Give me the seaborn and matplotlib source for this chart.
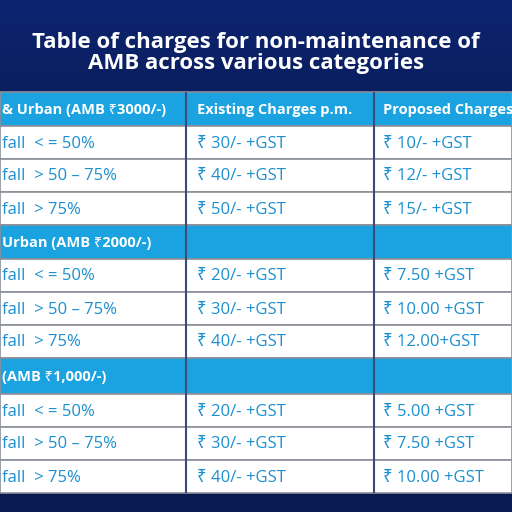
import matplotlib
matplotlib.use("Agg")
import matplotlib.pyplot as plt
import seaborn as sns
import numpy as np

sns.set_theme(style="white")
plt.rcParams['font.family'] = ['Open Sans', 'Noto Sans', 'DejaVu Sans']

title = "Table of charges for non-maintenance of\nAMB across various categories"
headers = ["& Urban (AMB ₹3000/-)", "Existing Charges p.m.", "Proposed Charges p.m."]
sections = ["Urban (AMB ₹2000/-)", "(AMB ₹1,000/-)"]
row_labels = ["fall  < = 50%", "fall  > 50 – 75%", "fall  > 75%"]
existing = [["₹ 30/- +GST", "₹ 40/- +GST", "₹ 50/- +GST"],
            ["₹ 20/- +GST", "₹ 30/- +GST", "₹ 40/- +GST"],
            ["₹ 20/- +GST", "₹ 30/- +GST", "₹ 40/- +GST"]]
proposed = [["₹ 10/- +GST", "₹ 12/- +GST", "₹ 15/- +GST"],
            ["₹ 7.50 +GST", "₹ 10.00 +GST", "₹ 12.00+GST"],
            ["₹ 5.00 +GST", "₹ 7.50 +GST", "₹ 10.00 +GST"]]

BLUE = "#1aa3e0"
TXT = "#1b8fd0"
fig = plt.figure(figsize=(5.12, 5.12), dpi=100)
fig.patch.set_facecolor("#0a1a52")
bg = fig.add_axes([0, 0, 1, 1])
grad = np.linspace(0, 1, 256).reshape(-1, 1)
bg.imshow(grad, aspect="auto", cmap=sns.blend_palette(["#0c2470", "#081540", "#0a1a52"], as_cmap=True), extent=[0, 512, 512, 0])
bg.set_xlim(0, 512); bg.set_ylim(512, 0); bg.axis("off")

ax = fig.add_axes([0, 0, 1, 1], facecolor="none")
ax.set_xlim(0, 512); ax.set_ylim(512, 0); ax.axis("off")

fig.text(0.5, 1 - 53 / 512, title, ha="center", va="center", color="white",
         fontsize=16, fontweight="bold", linespacing=1.05)

colx = [0, 186, 374]
textx = [2, 197, 383]
y0 = 92
heights = [34] + [33, 33, 33] + [34] + [33, 33, 33] + [36] + [33, 33, 33]
kinds, texts = [], []
kinds.append("h"); texts.append(headers)
for s in range(3):
    if s > 0:
        kinds.append("h"); texts.append([sections[s - 1], "", ""])
    for r in range(3):
        kinds.append("r"); texts.append([row_labels[r], existing[s][r], proposed[s][r]])

y = y0
for k, h, t in zip(kinds, heights, texts):
    c = y + h / 2
    ax.barh(c, 512, height=h, left=0, color=BLUE if k == "h" else "white",
            edgecolor="#8a8f99", linewidth=1.2)
    for i in range(3):
        ax.text(textx[i], c + 1, t[i], ha="left", va="center",
                color="white" if k == "h" else TXT,
                fontsize=10.5 if k == "h" else 12,
                fontweight="bold" if k == "h" else "normal")
    y += h
for x in colx[1:]:
    ax.vlines(x, y0, y, color="#3b4a7a", linewidth=1.5)

fig.savefig("out.png", dpi=100)
